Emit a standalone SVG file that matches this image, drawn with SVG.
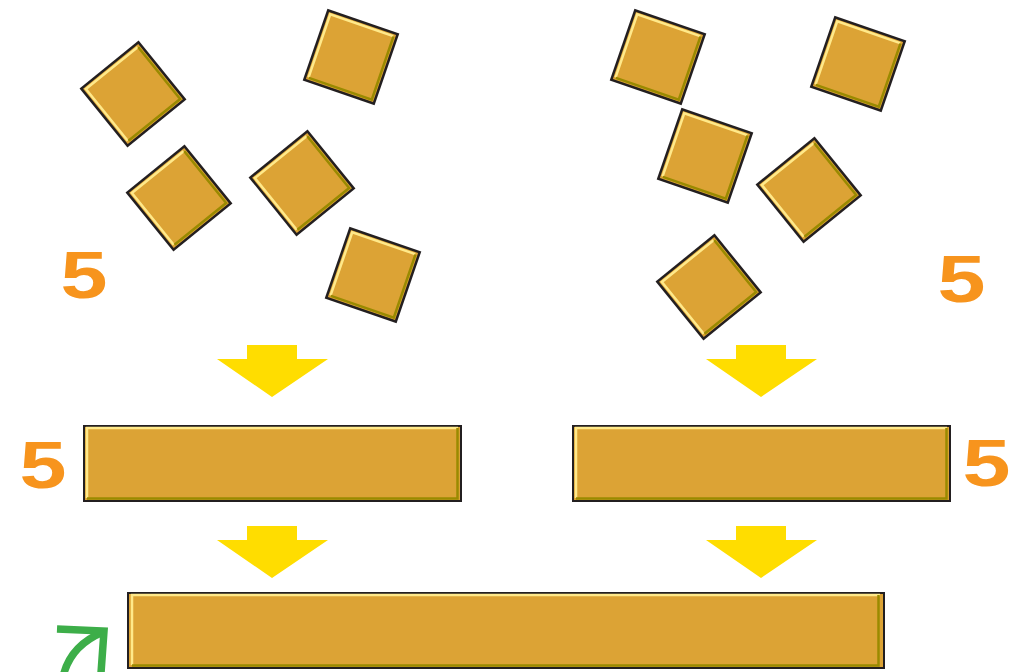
<svg xmlns="http://www.w3.org/2000/svg" width="1022" height="672" viewBox="0 0 1022 672">
<style>
.gold{fill:#DCA335}
.dark{fill:#231F20}
.hi{fill:none;stroke:#FFE98A;stroke-width:2.5}
.ol{fill:none;stroke:#9A8A00;stroke-width:2.5}
.arr{fill:#FFDD00}
.five{font-family:"Liberation Sans",Arial,sans-serif;font-weight:bold;font-size:66px;fill:#F7941D}
.green{fill:none;stroke:#3DAE49;stroke-width:7.5;stroke-linecap:butt;stroke-linejoin:miter}
</style>
<defs>
<g id="sq">
<rect class="dark" x="-38" y="-38" width="76" height="76"/>
<rect class="gold" x="-35.5" y="-35.5" width="71" height="71"/>
<polyline class="hi" points="-33.5,33 -33.5,-33.5 33,-33.5"/>
<polyline class="ol" points="-33,33.5 33.5,33.5 33.5,-33"/>
</g>
</defs>
<rect width="1022" height="672" fill="#FFFFFF"/>
<g id="square1"><use href="#sq" transform="translate(133,94) rotate(-39)"/></g>
<g id="square2"><use href="#sq" transform="translate(351,57) rotate(19)"/></g>
<g id="square3"><use href="#sq" transform="translate(179,198) rotate(-39)"/></g>
<g id="square4"><use href="#sq" transform="translate(302,183) rotate(-39)"/></g>
<g id="square5"><use href="#sq" transform="translate(373,275) rotate(19)"/></g>
<g id="square6"><use href="#sq" transform="translate(658,57) rotate(19)"/></g>
<g id="square7"><use href="#sq" transform="translate(858,64) rotate(19)"/></g>
<g id="square8"><use href="#sq" transform="translate(705,156) rotate(19)"/></g>
<g id="square9"><use href="#sq" transform="translate(809,190) rotate(-39)"/></g>
<g id="square10"><use href="#sq" transform="translate(709,287) rotate(-39)"/></g>

<g id="bar-left">
<rect class="dark" x="83" y="425" width="379" height="77"/>
<rect class="gold" x="85" y="427" width="375" height="73"/>
<polyline class="hi" points="87,498 87,428 458,428"/>
<polyline class="ol" points="87,498.5 457.5,498.5 457.5,428"/>
</g>
<g id="bar-right">
<rect class="dark" x="572" y="425" width="379" height="77"/>
<rect class="gold" x="574" y="427" width="375" height="73"/>
<polyline class="hi" points="576,498 576,428 947,428"/>
<polyline class="ol" points="576,498.5 946.5,498.5 946.5,428"/>
</g>
<g id="bar-bottom">
<rect class="dark" x="127" y="592" width="758" height="77"/>
<rect class="gold" x="129" y="594" width="754" height="73"/>
<polyline class="hi" points="132,665 132,595 880,595"/>
<polyline class="ol" points="132,665.5 878.5,665.5 878.5,595"/>
</g>

<g id="labels">
<text class="five" x="60.5" y="298" textLength="47" lengthAdjust="spacingAndGlyphs">5</text>
<text class="five" x="937.5" y="302" textLength="48" lengthAdjust="spacingAndGlyphs">5</text>
<text class="five" x="19.5" y="488" textLength="47" lengthAdjust="spacingAndGlyphs">5</text>
<text class="five" x="962.5" y="486" textLength="48" lengthAdjust="spacingAndGlyphs">5</text>
</g>

<g id="connectors">
<polygon class="arr" points="247,345 297,345 297,359 328,359 272,397 217,359 247,359"/>
<polygon class="arr" points="736,345 786,345 786,359 817,359 761,397 706,359 736,359"/>
<polygon class="arr" points="247,526 297,526 297,540 328,540 272,578 217,540 247,540"/>
<polygon class="arr" points="736,526 786,526 786,540 817,540 761,578 706,540 736,540"/>
<path class="green" d="M 64 673 Q 72 645 103 632"/>
<path class="green" d="M 57 629 L 104 631 L 101 673"/>
</g>
</svg>
